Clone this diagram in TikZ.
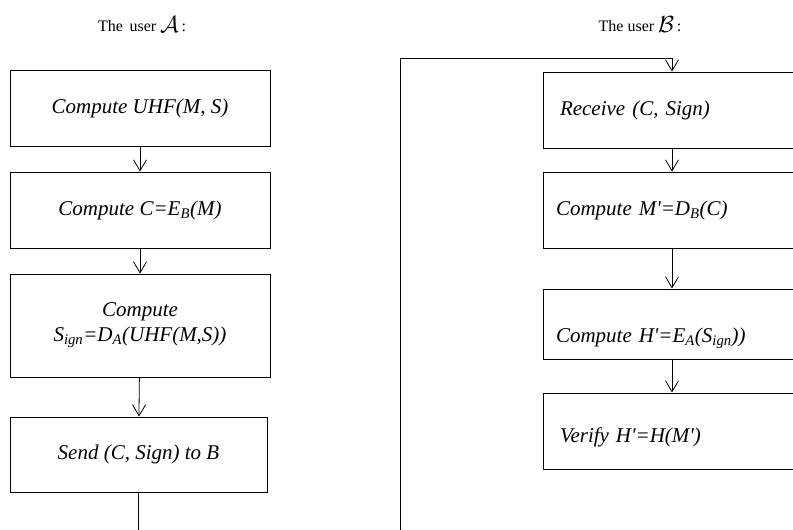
\documentclass[tikz,border=0pt]{standalone}
\usepackage{fontspec}
\setmainfont{Liberation Serif}
\usetikzlibrary{arrows.meta}
\newcommand{\pr}{\textquotesingle}
\begin{document}
\begin{tikzpicture}[x=1pt,y=1pt,
  box/.style={draw, line width=0.9pt, font=\fontsize{21}{25}\selectfont\itshape, inner sep=0pt},
  lbox/.style={box, minimum width=260pt, align=center},
  rbox/.style={box, minimum width=258pt, text width=232pt, inner xsep=13pt, align=left},
  title/.style={font=\fontsize{16}{19}\selectfont},
  conn/.style={line width=0.8pt, -{Straight Barb[length=11pt,width=13pt,line width=0.8pt]}},
  plain/.style={line width=0.8pt}]
\useasboundingbox (0,0) rectangle (793,-530);
\begin{scope}
\clip (0,0) rectangle (793,-530);
% titles
\node[title] (tA) at (142,-25) {The\, user \raisebox{-1pt}{\scalebox{1.35}{$\mathcal{A}$}}\,:};
\node[title] (tB) at (640,-25) {The user \raisebox{-1pt}{\scalebox{1.35}{$\mathcal{B}$}}\,:};
% left column
\node[lbox, minimum height=76pt] (a1) at (140,-108) {Compute UHF(M, S)};
\node[lbox, minimum height=76pt] (a2) at (140,-210) {Compute C=E\textsubscript{B}(M)};
\node[lbox, minimum height=103pt] (a3) at (140,-325.5) {Compute\\S\textsubscript{ign}=D\textsubscript{A}(UHF(M,S))};
\node[lbox, minimum height=75pt, minimum width=257pt] (a4) at (138.5,-454.5) {Send (C, Sign) to B};
\coordinate (aend) at (a4.south |- 0,-535);
\draw[conn] (a1) -- (a2);
\draw[conn] (a2) -- (a3);
\draw[conn] (a3) -- (a4);
\draw[plain] (a4) -- (aend);
% right column
\node[rbox, minimum height=76pt] (b1) at (672,-110) {\hspace*{4pt}Receive (C, Sign)};
\node[rbox, minimum height=76pt] (b2) at (672,-210) {Compute M\pr=D\textsubscript{B}(C)};
\node[rbox, minimum height=70pt] (b3) at (672,-324) {\rule{0pt}{44pt}Compute H\pr=E\textsubscript{A}(S\textsubscript{ign}))};
\node[rbox, minimum height=76pt] (b4) at (672,-431) {\rule{0pt}{28pt}\hspace*{4pt}Verify H\pr=H(M\pr)};
\draw[conn] (b1) -- (b2);
\draw[conn] (b2) -- (b3);
\draw[conn] (b3) -- (b4);
\coordinate (fb0) at (400,-535);
\coordinate (fb1) at (400,-58);
\draw[plain] (fb0) -- (fb1) -- (fb1 -| b1.north);
\draw[conn] (fb1 -| b1.north) -- (b1.north);
\end{scope}
\end{tikzpicture}
\end{document}
